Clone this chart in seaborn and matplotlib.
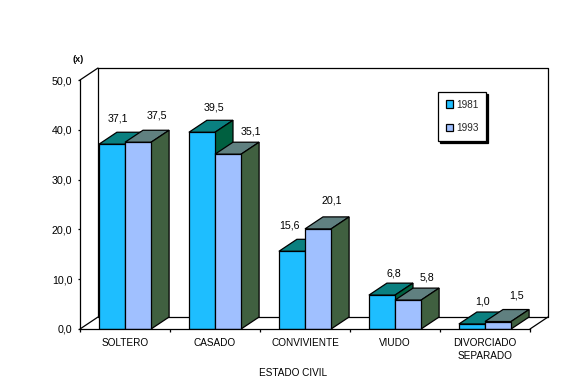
#!/usr/bin/env python3

from matplotlib.patches import Polygon
from matplotlib.ticker import FuncFormatter
import matplotlib
matplotlib.use("Agg")
import matplotlib.pyplot as plt
import pandas as pd
import seaborn as sns

CATEGORIES = ["SOLTERO", "CASADO", "CONVIVIENTE", "VIUDO", "DIVORCIADO\nSEPARADO"]
VALUES_1981 = [37.1, 39.5, 15.6, 6.8, 1.0]
VALUES_1993 = [37.5, 35.1, 20.1, 5.8, 1.5]
YEARS = ["1981", "1993"]

# (front, top, side) colours per year
COLORS = {
    "1981": ("#1ebeff", "#0a8080", "#006040"),
    "1993": ("#a0c0ff", "#608080", "#406040"),
}

# label offsets from the front top centre of each bar, in pixels
NUDGE_1981 = [(6, 26), (12, 25), (-2, 26), (12, 22), (11, 23)]
NUDGE_1993 = [(19, 27), (23, 23), (14, 28), (19, 23), (18, 26)]

DEPTH_X = 0.2    # 18 px in category units
DEPTH_Y = 2.41   # 12 px in value units
LW = 0.9
FS = 7.2


def comma(x, pos=None):
    return f"{x:.1f}".replace(".", ",")


sns.set_theme(style="ticks")
plt.rcParams["font.family"] = ["Liberation Sans", "DejaVu Sans"]

df = pd.DataFrame({
    "categoria": CATEGORIES * 2,
    "valor": VALUES_1981 + VALUES_1993,
    "ano": [YEARS[0]] * 5 + [YEARS[1]] * 5,
})

fig = plt.figure(figsize=(5.85, 3.84), dpi=100)
ax = fig.add_axes([80 / 585, (384 - 329) / 384, 450 / 585, 249 / 384])
ax.patch.set_visible(False)

sns.barplot(data=df, x="categoria", y="valor", hue="ano", order=CATEGORIES,
            hue_order=YEARS, palette={y: COLORS[y][0] for y in YEARS},
            width=0.58, gap=0, saturation=1, edgecolor="black", linewidth=LW,
            errorbar=None, ax=ax)

ax.set_xlim(-0.5, 4.5)
ax.set_ylim(0, 50)

# back wall and floor
wall = dict(color="black", lw=LW, clip_on=False, zorder=1)
ax.plot([-0.5 + DEPTH_X, -0.5 + DEPTH_X, 4.5 + DEPTH_X, 4.5 + DEPTH_X],
        [DEPTH_Y, 50 + DEPTH_Y, 50 + DEPTH_Y, DEPTH_Y], **wall)
ax.plot([-0.5 + DEPTH_X, 4.5 + DEPTH_X], [DEPTH_Y, DEPTH_Y], **wall)
ax.plot([-0.5, -0.5 + DEPTH_X], [50, 50 + DEPTH_Y], **wall)
ax.plot([-0.5, -0.5 + DEPTH_X], [0, DEPTH_Y], **wall)
ax.plot([4.5, 4.5 + DEPTH_X], [0, DEPTH_Y], **wall)

# extrude the bars seaborn made
containers = list(ax.containers)
for k, (year, cont, nudges) in enumerate(zip(YEARS, containers, [NUDGE_1981, NUDGE_1993])):
    front, top, side = COLORS[year]
    for bar, nudge in zip(cont, nudges):
        x0, x1 = bar.get_x(), bar.get_x() + bar.get_width()
        h = bar.get_height()
        bar.set_zorder(4 + 2 * k)
        ax.add_patch(Polygon([(x0, h), (x1, h), (x1 + DEPTH_X, h + DEPTH_Y), (x0 + DEPTH_X, h + DEPTH_Y)],
                             closed=True, fc=top, ec="black", lw=LW, clip_on=False, zorder=3 + 2 * k))
        ax.add_patch(Polygon([(x1, 0), (x1 + DEPTH_X, DEPTH_Y), (x1 + DEPTH_X, h + DEPTH_Y), (x1, h)],
                             closed=True, fc=side, ec="black", lw=LW, clip_on=False, zorder=3 + 2 * k))
        ax.annotate(comma(h), xy=((x0 + x1) / 2, h),
                    xytext=(nudge[0] * 0.72, nudge[1] * 0.72), textcoords="offset points",
                    ha="center", va="center", fontsize=FS + 0.5, color="black", zorder=10)

sns.despine(ax=ax, top=True, right=True)
for s in ("left", "bottom"):
    ax.spines[s].set_linewidth(LW)
    ax.spines[s].set_color("black")
    ax.spines[s].set_zorder(8)

ax.set_yticks([0, 10, 20, 30, 40, 50])
ax.yaxis.set_major_formatter(FuncFormatter(comma))
ax.tick_params(axis="y", length=1.5, width=LW, pad=4, labelsize=FS + 0.5, colors="black")

ax.set_xticks([i - 0.5 for i in range(6)], [""] * 6)
ax.set_xticks(range(5), CATEGORIES, minor=True)
ax.tick_params(axis="x", which="major", length=2.2, width=LW, colors="black")
ax.tick_params(axis="x", which="minor", length=0, pad=6.8, labelsize=FS, colors="black")
for t in ax.get_xticklabels(minor=True):
    t.set_linespacing(1.3)

ax.set_xlabel("ESTADO CIVIL", fontsize=FS, color="black", labelpad=0)
ax.xaxis.set_label_coords(213 / 450, -38.5 / 249)
ax.set_ylabel("")
ax.text(-2 / 450, 270 / 249, "(x)", transform=ax.transAxes, ha="center", va="center",
        fontsize=6.5, fontweight="bold", color="black")

handles, labels = ax.get_legend_handles_labels()
leg = ax.legend(handles, labels, loc="upper left",
                bbox_to_anchor=(358 / 450, 1 - (92 - 80) / 249),
                frameon=True, fancybox=False, framealpha=1, edgecolor="black",
                shadow={"ox": 1.5, "oy": -1.5, "color": "black", "alpha": 1},
                fontsize=FS, handlelength=0.75, handleheight=0.75, handletextpad=0.3,
                labelspacing=1.35, borderpad=0.75, borderaxespad=0)
leg.get_frame().set_linewidth(LW)
leg.set_zorder(12)

fig.savefig("out.png", dpi=100, facecolor="white")
